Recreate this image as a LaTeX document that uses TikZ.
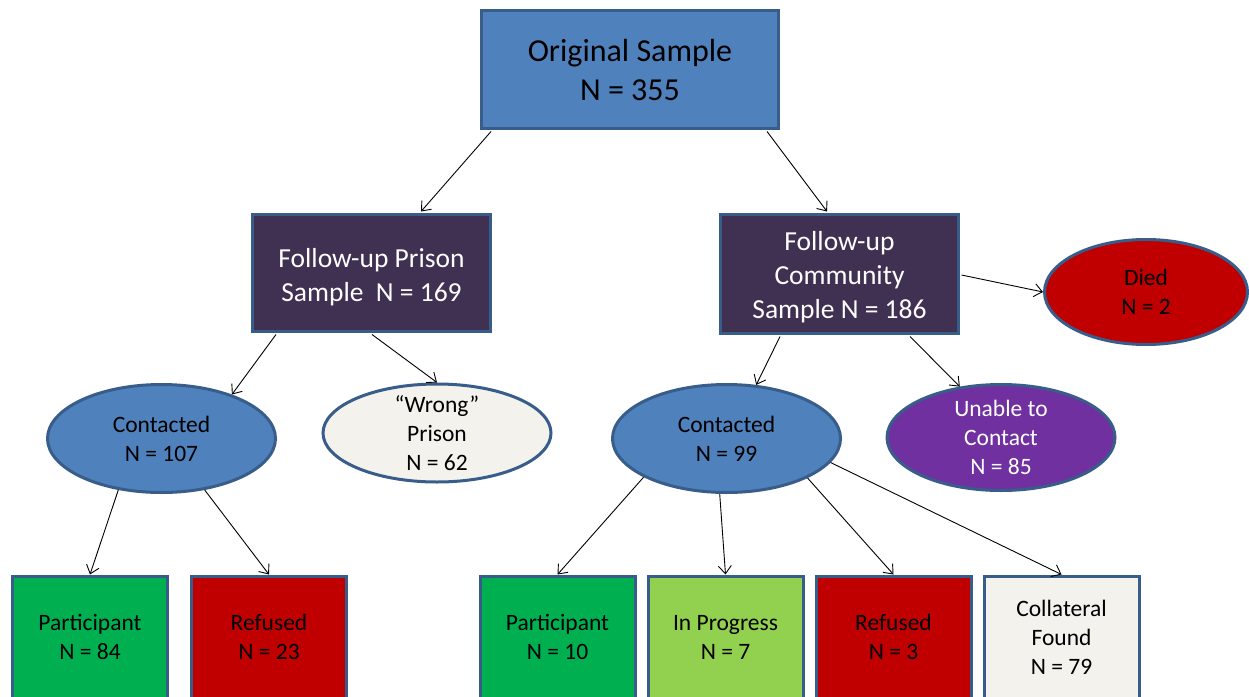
\documentclass[tikz,border=0pt]{standalone}
\usepackage{fontspec}
\setmainfont{Carlito}
\usetikzlibrary{arrows.meta,calc,shapes.geometric}
\definecolor{bluefill}{HTML}{4F81BD}
\definecolor{bord}{HTML}{385D8A}
\definecolor{darkp}{HTML}{403152}
\definecolor{redf}{HTML}{C00000}
\definecolor{purp}{HTML}{7030A0}
\definecolor{creme}{HTML}{F3F2EC}
\definecolor{greenf}{HTML}{00B050}
\definecolor{lgreen}{HTML}{92D050}
\begin{document}
\begin{tikzpicture}[x=1pt,y=-1pt,
 box/.style={draw=bord,line width=3pt,rectangle,inner sep=0pt,align=center},
 oval/.style={draw=bord,line width=3pt,ellipse,inner sep=0pt,minimum width=228pt,minimum height=108pt},
 txt/.style={align=center,inner sep=0pt,font=\fontsize{23.5}{29}\selectfont},
 midtxt/.style={align=center,inner sep=0pt,text=white,font=\fontsize{27.5}{34}\selectfont},
 arr/.style={line width=0.9pt,-{Straight Barb[length=8pt,width=13pt]}},
 bot/.style={box,minimum width=155pt,minimum height=122pt,font=\fontsize{23.5}{29}\selectfont}
]
\path[use as bounding box, clip] (0,0) rectangle (1249,696);
\fill[white] (0,0) rectangle (1249,696);

% level 0
\node[box,fill=bluefill,minimum width=297pt,minimum height=118pt,font=\fontsize{32}{39}\selectfont] (top) at (630,69.5) {Original Sample\\N = 355};

% level 1
\node[box,fill=darkp,minimum width=238pt,minimum height=117pt] (prison) at (371.5,273) {};
\node[midtxt] (prisont) at ($(prison.center)+(0,4)$) {Follow-up Prison\\Sample~~N = 169};
\node[box,fill=darkp,minimum width=238pt,minimum height=119pt] (comm) at (839.5,274) {};
\node[midtxt] (commt) at ($(comm.center)+(0,3.5)$) {Follow-up\\Community\\Sample N = 186};
\node[oval,fill=redf,minimum width=203pt,minimum height=105pt] (died) at (1146,292) {};
\node[txt] (diedt) at (died.center) {Died\\N = 2};

% level 2
\node[oval,fill=bluefill] (cl) at (161.5,438.5) {};
\node[txt] (clt) at (cl.center) {Contacted\\N = 107};
\node[oval,fill=creme,minimum height=98pt] (wrong) at (437,433) {};
\node[txt] (wrongt) at (wrong.center) {“Wrong”\\Prison\\N = 62};
\node[oval,fill=bluefill] (cr) at (726.5,438.5) {};
\node[txt] (crt) at (cr.center) {Contacted\\N = 99};
\node[oval,fill=purp,minimum height=106pt] (unable) at (1001,437.5) {};
\node[txt,text=white] (unablet) at (unable.center) {Unable to\\Contact\\N = 85};

% level 3
\node[bot,fill=greenf] (p1) at (90,637) {Participant\\N = 84};
\node[bot,fill=redf] (r1) at (269,637) {Refused\\N = 23};
\node[bot,fill=greenf] (p2) at (557.5,637) {Participant\\N = 10};
\node[bot,fill=lgreen] (ip) at (725.5,637) {In Progress\\N = 7};
\node[bot,fill=redf] (r2) at (893.5,637) {Refused\\N = 3};
\node[bot,fill=creme] (col) at (1061.5,637) {Collateral\\Found\\N = 79};

% connectors
\draw[arr] ($(top.south west)+(11,1.5)$) -- ($(prison.north west)+(170,-1.5)$);
\draw[arr] ($(top.south east)+(-13,1.5)$) -- ($(comm.north west)+(108,-1.5)$);
\draw[arr] ($(prison.south west)+(25,1.5)$) -- (cl.32);
\draw[arr] ($(prison.south west)+(121,1.5)$) -- (wrong.north);
\draw[arr] ($(comm.south west)+(61,1.5)$) -- (cr.61);
\draw[arr] ($(comm.south west)+(191,1.5)$) -- (unable.129);
\draw[arr] ($(comm.east)+(1.5,1)$) -- (died.west);
\draw[arr] (cl.230) -- (p1.north);
\draw[arr] (cl.-50) -- (r1.north);
\draw[arr] (cr.205) -- (p2.north);
\draw[arr] (cr.263) -- (ip.north);
\draw[arr] (cr.-26) -- (r2.north);
\draw[arr] (cr.-13) -- (col.north);
\end{tikzpicture}
\end{document}
